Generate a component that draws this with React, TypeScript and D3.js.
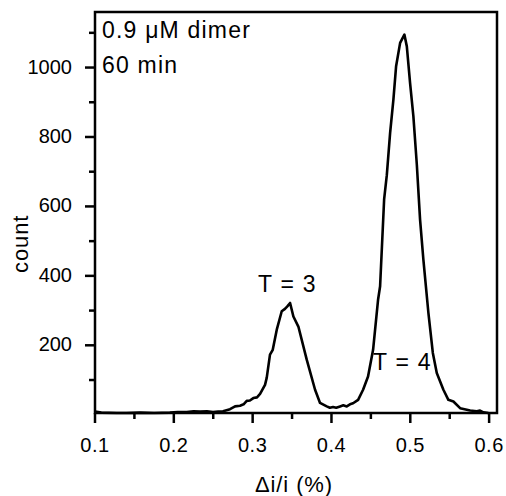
import React from "react";
import * as d3 from "d3";

// delta i / i (%) and count
const xValues = [
  0.1, 0.108, 0.1275, 0.14, 0.157, 0.175, 0.195, 0.205, 0.2164, 0.225, 0.2333, 0.242, 0.2497,
  0.2562, 0.2624, 0.2713, 0.2777, 0.284, 0.2885, 0.2925, 0.2965, 0.3009, 0.3055, 0.3094,
  0.3157, 0.3179, 0.322, 0.3255, 0.3306, 0.3369, 0.341, 0.344, 0.3475, 0.3517, 0.358, 0.3687,
  0.3792, 0.3855, 0.394, 0.398, 0.402, 0.406, 0.4109, 0.415, 0.4194, 0.4235, 0.4274, 0.4338,
  0.4401, 0.4464, 0.4528, 0.4591, 0.4617, 0.4668, 0.4702, 0.4744, 0.4786, 0.482, 0.4871,
  0.4925, 0.4956, 0.4997, 0.5039, 0.5083, 0.5124, 0.5166, 0.523, 0.5286, 0.5336, 0.542,
  0.5483, 0.5547, 0.5632, 0.5759, 0.5844, 0.5885, 0.5928, 0.5991,
];
const counts = [
  9, 6, 5, 5, 6, 5, 6, 8, 8, 10, 9, 10, 8,
  9, 10, 16, 24, 26, 30, 40, 41, 48, 50, 60,
  86, 107, 173, 187, 245, 298, 305, 312, 322, 283, 254, 158,
  72, 34, 24, 20, 22, 20, 24, 27, 24, 30, 33, 43,
  72, 110, 187, 331, 370, 620, 690, 812, 908, 1004, 1071,
  1095, 1061, 956, 860, 720, 562, 447, 293, 178, 120, 72,
  43, 38, 19, 12, 10, 12, 7, 5,
];

const xTicks = [0.1, 0.2, 0.3, 0.4, 0.5, 0.6];
const xMinor = [0.15, 0.25, 0.35, 0.45, 0.55];
const yTicks = [200, 400, 600, 800, 1000];
const yMinor = [100, 300, 500, 700, 900, 1100];

const annotations = [
  { text: "T = 3", x: 0.344, y: 353 },
  { text: "T = 4", x: 0.49, y: 129 },
];

export default function App() {
  const width = 506;
  const height = 496;
  const left = 95;
  const right = 497;
  const top = 12;
  const bottom = 413;

  const x = d3.scaleLinear().domain([0.1, 0.61]).range([left, right]);
  const y = d3.scaleLinear().domain([5, 1160]).range([bottom, top]);

  const points = xValues.map((v, i) => [v, counts[i]] as [number, number]);
  const line = d3
    .line<[number, number]>()
    .x((d) => x(d[0]))
    .y((d) => y(d[1]));

  const font = "Arial, 'Liberation Sans', sans-serif";

  return (
    <svg
      width={width}
      height={height}
      style={{ position: "absolute", left: 0, top: 0, background: "white" }}
      fontFamily={font}
    >
      <rect x={left} y={top} width={right - left} height={bottom - top} fill="none" stroke="black" strokeWidth={2.5} />

      {xTicks.map((t) => (
        <g key={"x" + t}>
          <line x1={x(t)} x2={x(t)} y1={bottom} y2={bottom + 10} stroke="black" strokeWidth={2.5} />
          <text x={x(t)} y={452} fontSize={20} textAnchor="middle" letterSpacing={0.5}>
            {t.toFixed(1)}
          </text>
        </g>
      ))}
      {xMinor.map((t) => (
        <line key={"xm" + t} x1={x(t)} x2={x(t)} y1={bottom} y2={bottom + 6} stroke="black" strokeWidth={2.5} />
      ))}

      {yTicks.map((t) => (
        <g key={"y" + t}>
          <line x1={left - 10} x2={left} y1={y(t)} y2={y(t)} stroke="black" strokeWidth={2.5} />
          <text x={72} y={y(t) + 6} fontSize={20} textAnchor="end">
            {t}
          </text>
        </g>
      ))}
      {yMinor.map((t) => (
        <line key={"ym" + t} x1={left - 6} x2={left} y1={y(t)} y2={y(t)} stroke="black" strokeWidth={2.5} />
      ))}

      <path d={line(points) ?? ""} fill="none" stroke="black" strokeWidth={2.6} strokeLinejoin="round" />

      <text x={102} y={38} fontSize={23} letterSpacing={1.2}>
        0.9 μM dimer
      </text>
      <text x={102} y={73} fontSize={23} letterSpacing={1.2}>
        60 min
      </text>

      {annotations.map((a) => (
        <text key={a.text} x={x(a.x)} y={y(a.y)} fontSize={23} letterSpacing={1.2} textAnchor="middle">
          {a.text}
        </text>
      ))}

      <text x={294} y={492} fontSize={22} letterSpacing={0.9} textAnchor="middle">
        Δi/i (%)
      </text>
      <text transform="translate(28,273) rotate(-90)" fontSize={22} letterSpacing={0.9} textAnchor="start">
        count
      </text>
    </svg>
  );
}
